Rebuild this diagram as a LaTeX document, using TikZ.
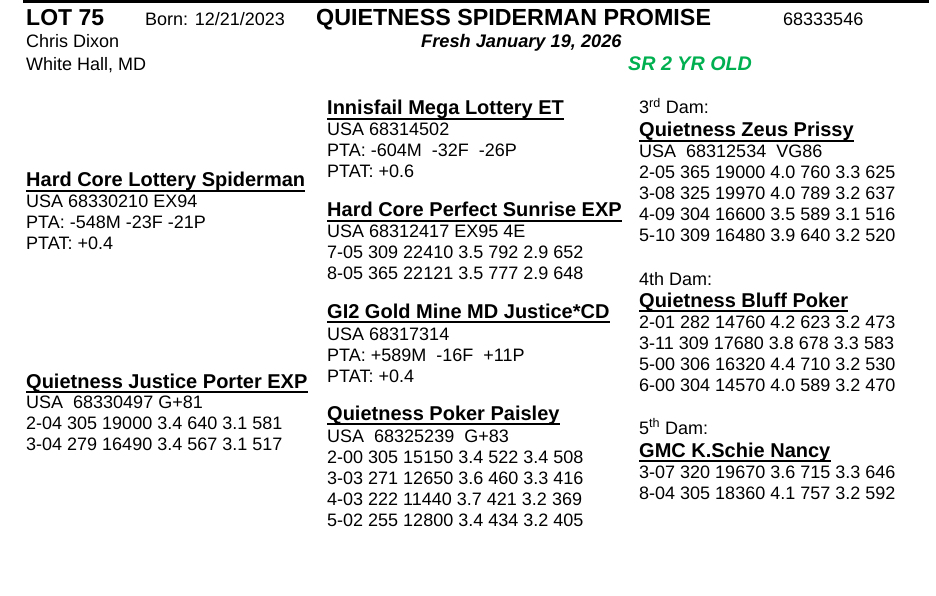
\documentclass[tikz,border=0pt]{standalone}
\usepackage{fontspec}
\setmainfont{Liberation Sans}
\definecolor{srgreen}{RGB}{0,176,80}
\begin{document}
\begin{tikzpicture}[x=1bp,y=-1bp,
  txt/.style={anchor=base west, inner sep=0pt, font=\fontsize{18bp}{21bp}\selectfont},
  hdr/.style={anchor=base west, inner sep=0pt, font=\fontsize{20bp}{24bp}\selectfont\bfseries},
  uline/.style={line width=2bp}]
\useasboundingbox (0,0) rectangle (936,596);
\fill[black] (23,0) rectangle (929,3);
% header
\node[anchor=base west, inner sep=0pt, font=\fontsize{23bp}{26bp}\selectfont\bfseries] (lot) at (26,26) {LOT 75};
\node[txt] (born) at (145,26) {Born: 12/21/2023};
\node[anchor=base west, inner sep=0pt, font=\fontsize{23.3bp}{26bp}\selectfont\bfseries] (title) at (316,26) {QUIETNESS SPIDERMAN PROMISE};
\node[txt] (regno) at (783,26) {68333546};
\node[txt] (owner) at (26,48) {Chris Dixon};
\node[anchor=base west, inner sep=0pt, font=\fontsize{18.2bp}{21bp}\selectfont\bfseries\itshape] (fresh) at (421,48) {Fresh January 19, 2026};
\node[txt] (town) at (26,71) {White Hall, MD};
\node[anchor=base west, inner sep=0pt, text=srgreen, font=\fontsize{19.7bp}{22bp}\selectfont\bfseries\itshape] (sr) at (628,71) {SR 2 YR OLD};
% column 1
\node[hdr] (sire) at (26,187) {Hard Core Lottery Spiderman};
\draw[uline] ([yshift=-4bp]sire.base west) -- ([yshift=-4bp]sire.base east);
\node[txt] (sireA) at (26,208) {USA 68330210 EX94};
\node[txt] (sireB) at (26,229) {PTA: -548M -23F -21P};
\node[txt] (sireC) at (26,250) {PTAT: +0.4};
\node[hdr] (dam) at (26,388) {Quietness Justice Porter EXP};
\draw[uline] ([yshift=-4bp]dam.base west) -- ([yshift=-4bp]dam.base east);
\node[txt] (damA) at (26,408) {USA\ \ 68330497 G+81};
\node[txt] (damB) at (26,429) {2-04 305 19000 3.4 640 3.1 581};
\node[txt] (damC) at (26,450) {3-04 279 16490 3.4 567 3.1 517};
% column 2
\node[hdr] (ss) at (327,115) {Innisfail Mega Lottery ET};
\draw[uline] ([yshift=-4bp]ss.base west) -- ([yshift=-4bp]ss.base east);
\node[txt] (ssA) at (327,136) {USA 68314502};
\node[txt] (ssB) at (327,157) {PTA: -604M\ \ -32F\ \ -26P};
\node[txt] (ssC) at (327,178) {PTAT: +0.6};
\node[hdr] (sd) at (327,217) {Hard Core Perfect Sunrise EXP};
\draw[uline] ([yshift=-4bp]sd.base west) -- ([yshift=-4bp]sd.base east);
\node[txt] (sdA) at (327,238) {USA 68312417 EX95 4E};
\node[txt] (sdB) at (327,259) {7-05 309 22410 3.5 792 2.9 652};
\node[txt] (sdC) at (327,280) {8-05 365 22121 3.5 777 2.9 648};
\node[hdr] (ds) at (327,318) {GI2 Gold Mine MD Justice*CD};
\draw[uline] ([yshift=-4bp]ds.base west) -- ([yshift=-4bp]ds.base east);
\node[txt] (dsA) at (327,340) {USA 68317314};
\node[txt] (dsB) at (327,361) {PTA: +589M\ \ -16F\ \ +11P};
\node[txt] (dsC) at (327,382) {PTAT: +0.4};
\node[hdr] (dd) at (327,420) {Quietness Poker Paisley};
\draw[uline] ([yshift=-4bp]dd.base west) -- ([yshift=-4bp]dd.base east);
\node[txt] (ddA) at (327,442) {USA\ \ 68325239\ \ G+83};
\node[txt] (ddB) at (327,463) {2-00 305 15150 3.4 522 3.4 508};
\node[txt] (ddC) at (327,484) {3-03 271 12650 3.6 460 3.3 416};
\node[txt] (ddD) at (327,505) {4-03 222 11440 3.7 421 3.2 369};
\node[txt] (ddE) at (327,526) {5-02 255 12800 3.4 434 3.2 405};
% column 3
\node[txt] (d3l) at (639,114) {3\textsuperscript{rd} Dam:};
\node[hdr] (d3) at (639,137) {Quietness Zeus Prissy};
\draw[uline] ([yshift=-4bp]d3.base west) -- ([yshift=-4bp]d3.base east);
\node[txt] (d3A) at (639,158) {USA\ \ 68312534\ \ VG86};
\node[txt] (d3B) at (639,179) {2-05 365 19000 4.0 760 3.3 625};
\node[txt] (d3C) at (639,200) {3-08 325 19970 4.0 789 3.2 637};
\node[txt] (d3D) at (639,221) {4-09 304 16600 3.5 589 3.1 516};
\node[txt] (d3E) at (639,242) {5-10 309 16480 3.9 640 3.2 520};
\node[txt] (d4l) at (639,285) {4th Dam:};
\node[hdr] (d4) at (639,307) {Quietness Bluff Poker};
\draw[uline] ([yshift=-4bp]d4.base west) -- ([yshift=-4bp]d4.base east);
\node[txt] (d4A) at (639,328) {2-01 282 14760 4.2 623 3.2 473};
\node[txt] (d4B) at (639,349) {3-11 309 17680 3.8 678 3.3 583};
\node[txt] (d4C) at (639,370) {5-00 306 16320 4.4 710 3.2 530};
\node[txt] (d4D) at (639,391) {6-00 304 14570 4.0 589 3.2 470};
\node[txt] (d5l) at (639,434) {5\textsuperscript{th} Dam:};
\node[hdr] (d5) at (639,457) {GMC K.Schie Nancy};
\draw[uline] ([yshift=-4bp]d5.base west) -- ([yshift=-4bp]d5.base east);
\node[txt] (d5A) at (639,478) {3-07 320 19670 3.6 715 3.3 646};
\node[txt] (d5B) at (639,499) {8-04 305 18360 4.1 757 3.2 592};
\end{tikzpicture}
\end{document}
